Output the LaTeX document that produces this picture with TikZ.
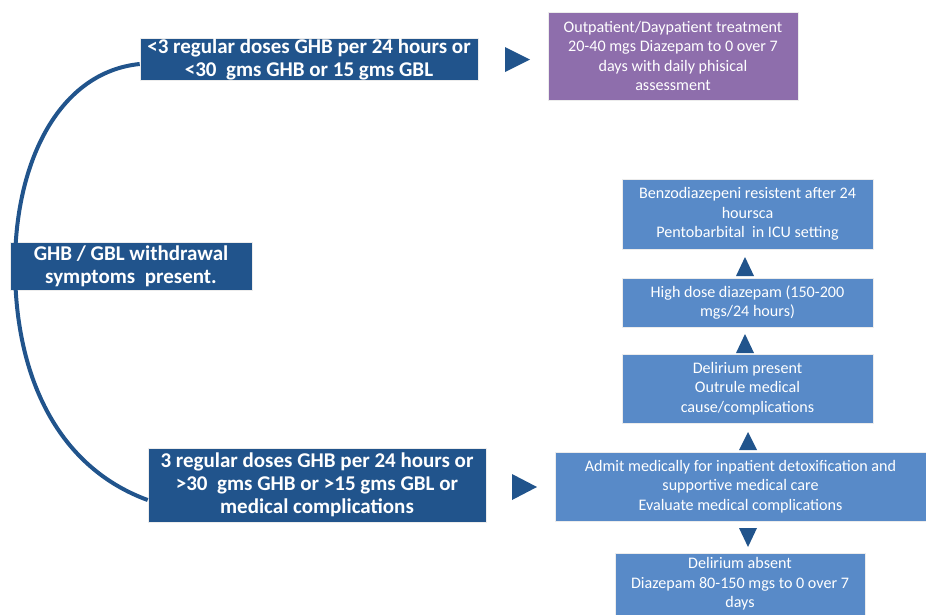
\documentclass[tikz,border=0pt]{standalone}
\usepackage{fontspec}
\setmainfont{Carlito}
\definecolor{darkblue}{RGB}{33,84,140}
\definecolor{midblue}{RGB}{88,138,200}
\definecolor{purplebox}{RGB}{142,110,172}
\tikzset{
  base/.style={draw=white!85!gray, line width=0.6pt, text=white, align=center, inner sep=0pt},
  darkbox/.style={base, fill=darkblue, font=\bfseries\fontsize{21}{23}\selectfont},
  lightbox/.style={base, fill=midblue, font=\fontsize{16.1}{19.5}\selectfont},
  tri/.style={fill=darkblue, draw=none},
  curve/.style={draw=darkblue, line width=4pt}
}
\begin{document}
\begin{tikzpicture}[x=1pt,y=-1pt]
\useasboundingbox (0,0) rectangle (926,614);
\node[darkbox, minimum width=338pt, minimum height=42pt] (top) at (309,59) {<3 regular doses GHB per 24 hours or\\<30\ \ gms GHB or 15 gms GBL};
\node[lightbox, fill=purplebox, minimum width=250pt, minimum height=88pt] (out) at (673,56) {Outpatient/Daypatient treatment\\20-40 mgs Diazepam to 0 over 7\\days with daily phisical\\assessment};
\node[darkbox, minimum width=242pt, minimum height=48pt] (sym) at (131,266) {GHB / GBL withdrawal\\symptoms\ \ present.};
\node[darkbox, minimum width=338pt, minimum height=74pt] (bot) at (317,485) {3 regular doses GHB per 24 hours or\\>30\ \ gms GHB or >15 gms GBL or\\medical complications};
\node[lightbox, minimum width=371pt, minimum height=69pt] (adm) at (740.5,486.5) {Admit medically for inpatient detoxification and\\supportive medical care\\Evaluate medical complications};
\node[lightbox, minimum width=250pt, minimum height=62pt] (abs) at (740,584) {Delirium absent\\Diazepam 80-150 mgs to 0 over 7\\days};
\node[lightbox, minimum width=251pt, minimum height=69pt] (pres) at (747.5,388.5) {Delirium present\\Outrule medical\\cause/complications};
\node[lightbox, minimum width=251pt, minimum height=49pt] (high) at (747.5,302.5) {High dose diazepam (150-200\\mgs/24 hours)};
\node[lightbox, minimum width=251pt, minimum height=70pt] (benz) at (747.5,214) {Benzodiazepeni resistent after 24\\hoursca\\Pentobarbital\ \ in ICU setting};
% curve
\draw[curve] ([yshift=-5pt]top.west) .. controls (60,72) and (15,160) .. (15,266) .. controls (15,380) and (60,468) .. ([yshift=-15pt]bot.west);
% triangles
\fill[tri] (505,47) -- (505,72) -- (530,59.5) -- cycle;
\fill[tri] (512,474) -- (512,500) -- (537,487) -- cycle;
\fill[tri] (736,276) -- (754,276) -- (745,257) -- cycle;
\fill[tri] (736,353) -- (754,353) -- (745,334) -- cycle;
\fill[tri] (739,450) -- (757,450) -- (748,432) -- cycle;
\fill[tri] (739,528) -- (757,528) -- (748,547) -- cycle;
\end{tikzpicture}
\end{document}
